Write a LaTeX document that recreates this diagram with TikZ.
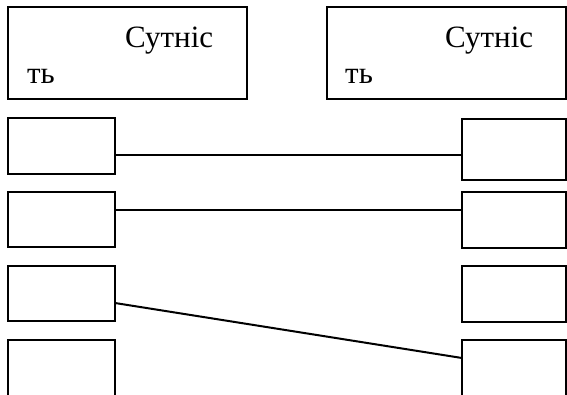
\documentclass[tikz,border=0pt]{standalone}
\usepackage{fontspec}
\setmainfont{Liberation Serif}
\begin{document}
\begin{tikzpicture}[x=1pt,y=-1pt,
  ent/.style={draw,line width=2pt,minimum width=239pt,minimum height=92pt,anchor=north west,inner sep=0pt,outer sep=0pt},
  attr/.style={draw,line width=2pt,minimum width=107pt,anchor=north west,inner sep=0pt,outer sep=0pt},
  lbl/.style={anchor=base west,inner sep=0pt,font=\fontsize{31}{36}\selectfont},
  link/.style={line width=2pt}]
\useasboundingbox (0,0) rectangle (567,394);
\clip (0,0) rectangle (567,394);
% entities
\node[ent] (e1) at (8,7) {};
\node[ent] (e2) at (327,7) {};
\node[lbl] (t1a) at (125,47) {Сутніс};
\node[lbl] (t1b) at (27,83) {ть};
\node[lbl] (t2a) at (445,47) {Сутніс};
\node[lbl] (t2b) at (345,83) {ть};
% left attributes
\node[attr,minimum height=56pt] (l1) at (8,118) {};
\node[attr,minimum height=55pt] (l2) at (8,192) {};
\node[attr,minimum height=55pt] (l3) at (8,266) {};
\node[attr,minimum height=70pt] (l4) at (8,340) {};
% right attributes
\node[attr,minimum width=104pt,minimum height=61pt] (r1) at (462,119) {};
\node[attr,minimum width=104pt,minimum height=56pt] (r2) at (462,192) {};
\node[attr,minimum width=104pt,minimum height=56pt] (r3) at (462,266) {};
\node[attr,minimum width=104pt,minimum height=70pt] (r4) at (462,340) {};
% links
\draw[link] (l1.east |- 0,155) -- (r1.west |- 0,155);
\draw[link] (l2.east |- 0,210) -- (r2.west |- 0,210);
\draw[link] (l3.east |- 0,303) -- (r4.west |- 0,358);
\end{tikzpicture}
\end{document}
